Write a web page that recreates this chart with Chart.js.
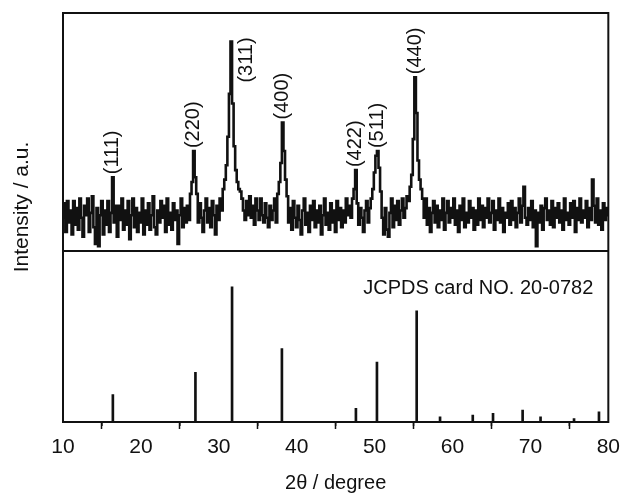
<!DOCTYPE html>
<html>
<head>
<meta charset="utf-8">
<script src="https://cdn.jsdelivr.net/npm/chart.js@4.4.0/dist/chart.umd.min.js"></script>
<style>
    html, body { margin: 0; padding: 0; background: #fff; }
</style>
</head>
<body>
<canvas id="xrdChart" width="626" height="500"></canvas>
<script>
// Scan measured from 10 to 80 degrees, step 0.2
const scanStart = 10;
const scanStep = 0.2;
const intensity = [
    14, 20, 8, 21, 12,   17, 7, 21, 11, 18,   9, 22, 14, 6, 19,    15, 22, 8, 16, 23,
    10, 3, 18, 2, 15,    21, 7, 17, 11, 21,   8, 16, 31, 12, 19,   6, 19, 13, 22, 9,
    17, 11, 21, 5, 15,   22, 10, 18, 8, 16,   12, 22, 7, 17, 11,   20, 9, 15, 23, 10,
    7, 17, 12, 21, 14,   19, 8, 22, 11, 16,   9, 20, 13, 17, 3,    15, 22, 10, 18, 12,
    19, 13, 24, 29, 42,  31, 24, 12, 20, 14,  8, 17, 22, 12, 18,   10, 21, 15, 7, 19,
    13, 22, 17, 26, 30,  36, 48, 66, 88, 62,  44, 34, 29, 26, 25,  22, 17, 13, 21, 15,
    23, 14, 19, 11, 22,  17, 13, 22, 15, 12,  20, 14, 10, 19, 13,  17, 22, 12, 24, 29,
    37, 54, 42, 30, 23,  12, 18, 9, 21, 14,   10, 19, 13, 7, 17,   22, 11, 16, 8, 19,
    13, 21, 10, 17, 12,  19, 7, 15, 22, 11,   16, 9, 20, 12, 17,   8, 21, 13, 18, 10,
    17, 12, 22, 15, 19,  14, 22, 26, 34, 20,  11, 18, 14, 8, 17,   21, 12, 18, 22, 26,
    33, 40, 42, 35, 25,  14, 7, 18, 9, 6,     16, 22, 10, 19, 13,  21, 11, 17, 22, 14,
    18, 23, 21, 27, 32,  47, 73, 58, 38, 30,  26, 22, 14, 22, 11,  18, 8, 16, 21, 12,
    19, 10, 17, 13, 22,  9, 16, 21, 12, 18,   14, 22, 11, 17, 8,   19, 13, 22, 10, 16,
    12, 21, 14, 18, 9,   17, 11, 22, 13, 19,  10, 18, 14, 22, 12,  16, 21, 9, 17, 13,
    22, 12, 18, 8, 16,   14, 20, 11, 21, 13,  18, 10, 16, 22, 12,  19, 27, 14, 11, 18,
    13, 21, 10, 17, 2,   16, 12, 19, 9, 18,   22, 13, 17, 11, 21,  10, 18, 14, 20, 12,
    17, 9, 22, 13, 16,   11, 20, 14, 21, 8,   18, 13, 22, 12, 17,  14, 21, 10, 18, 13,
    30, 19, 12, 22, 11,  17, 9, 20, 13, 18,
    15
];

// Reference card lines
const cardAngles = [16.4, 27.0, 31.7, 38.1, 47.6, 50.3, 55.4, 58.4, 62.6, 65.2, 69.0, 71.3, 75.6, 78.8];
const cardIntensity = [16, 29, 79, 43, 8, 35, 65, 3, 4, 5, 7, 3, 2, 6];

// Indexed peaks
const peakLabels = ['(111)', '(220)', '(311)', '(400)', '(422)', '(511)', '(440)'];
const peakAngles = [16.4, 26.8, 31.6, 38.2, 47.6, 50.4, 55.2];

const xTicks = [10, 20, 30, 40, 50, 60, 70, 80];
const minorTicks = [15, 25, 35, 45, 55, 65, 75];

const FONT = '"Liberation Sans", Arial, sans-serif';
const INK = '#111';

function peakValue(angle) {
    const i = Math.round((angle - scanStart) / scanStep);
    return intensity[i];
}

const decorations = {
    id: 'decorations',
    afterDraw(chart) {
        const { ctx, chartArea, scales } = chart;
        const x = scales.x, yTop = scales.ySample, yBot = scales.yCard;
        ctx.save();
        ctx.strokeStyle = INK;
        ctx.fillStyle = INK;

        // frame + divider
        ctx.lineWidth = 2;
        ctx.strokeRect(chartArea.left, chartArea.top, chartArea.right - chartArea.left, chartArea.bottom - chartArea.top);
        ctx.beginPath();
        ctx.moveTo(chartArea.left, yBot.top);
        ctx.lineTo(chartArea.right, yBot.top);
        ctx.stroke();

        // minor ticks
        ctx.lineWidth = 1.5;
        minorTicks.forEach(v => {
            const px = x.getPixelForValue(v);
            ctx.beginPath();
            ctx.moveTo(px, chartArea.bottom);
            ctx.lineTo(px, chartArea.bottom + 4);
            ctx.stroke();
        });

        // peak labels
        ctx.font = '20px ' + FONT;
        ctx.textBaseline = 'middle';
        ctx.textAlign = 'left';
        peakLabels.forEach((lab, i) => {
            let px = x.getPixelForValue(peakAngles[i]);
            let py = yTop.getPixelForValue(peakValue(peakAngles[i])) - 3;
            if (lab === '(311)') {
                px += 15;
                py += 44;
            }
            ctx.save();
            ctx.translate(px, py);
            ctx.rotate(-Math.PI / 2);
            ctx.fillText(lab, 0, 0);
            ctx.restore();
        });

        // card note
        ctx.textAlign = 'right';
        ctx.fillText('JCPDS card NO. 20-0782', chartArea.right - 15, yBot.top + 37);

        // y title
        ctx.font = '21px ' + FONT;
        ctx.save();
        ctx.translate(22, 207);
        ctx.rotate(-Math.PI / 2);
        ctx.textAlign = 'center';
        ctx.fillText('Intensity / a.u.', 0, 0);
        ctx.restore();

        ctx.restore();
    }
};

new Chart(document.getElementById('xrdChart'), {
    type: 'line',
    data: {
        datasets: [{
            label: 'sample',
            data: intensity.map((v, i) => ({ x: scanStart + i * scanStep, y: v })),
            yAxisID: 'ySample',
            borderColor: INK,
            borderWidth: 2.6,
            pointRadius: 0,
            stepped: 'middle',
            fill: false
        }, {
            type: 'bar',
            label: 'card',
            data: cardAngles.map((a, i) => ({ x: a, y: cardIntensity[i] })),
            yAxisID: 'yCard',
            backgroundColor: INK,
            barThickness: 2
        }]
    },
    options: {
        responsive: false,
        animation: false,
        layout: { padding: { left: 63, right: 16, top: 13, bottom: 0 } },
        plugins: { legend: { display: false }, tooltip: { enabled: false } },
        scales: {
            x: {
                type: 'linear',
                min: 10,
                max: 80,
                offset: false,
                afterBuildTicks: s => { s.ticks = xTicks.map(v => ({ value: v })); },
                ticks: { color: INK, font: { size: 21, family: FONT }, padding: 6, maxRotation: 0, autoSkip: false },
                grid: { drawOnChartArea: false, tickLength: 7, tickWidth: 1.5, tickColor: INK },
                border: { display: false },
                title: { display: true, text: '2θ / degree', color: INK, font: { size: 20, family: FONT }, padding: { top: 0, bottom: 5 } },
                afterFit: s => { s.height = 78; }
            },
            // first axis in the stack ends up at the bottom
            yCard: {
                type: 'linear',
                position: 'left',
                stack: 'xrd',
                stackWeight: 171,
                min: 0,
                max: 100,
                ticks: { display: false },
                grid: { display: false },
                border: { display: false },
                afterFit: s => { s.width = 0; }
            },
            ySample: {
                type: 'linear',
                position: 'left',
                stack: 'xrd',
                stackWeight: 238,
                min: 0,
                max: 100,
                ticks: { display: false },
                grid: { display: false },
                border: { display: false },
                afterFit: s => { s.width = 0; }
            }
        }
    },
    plugins: [decorations]
});
</script>
</body>
</html>
